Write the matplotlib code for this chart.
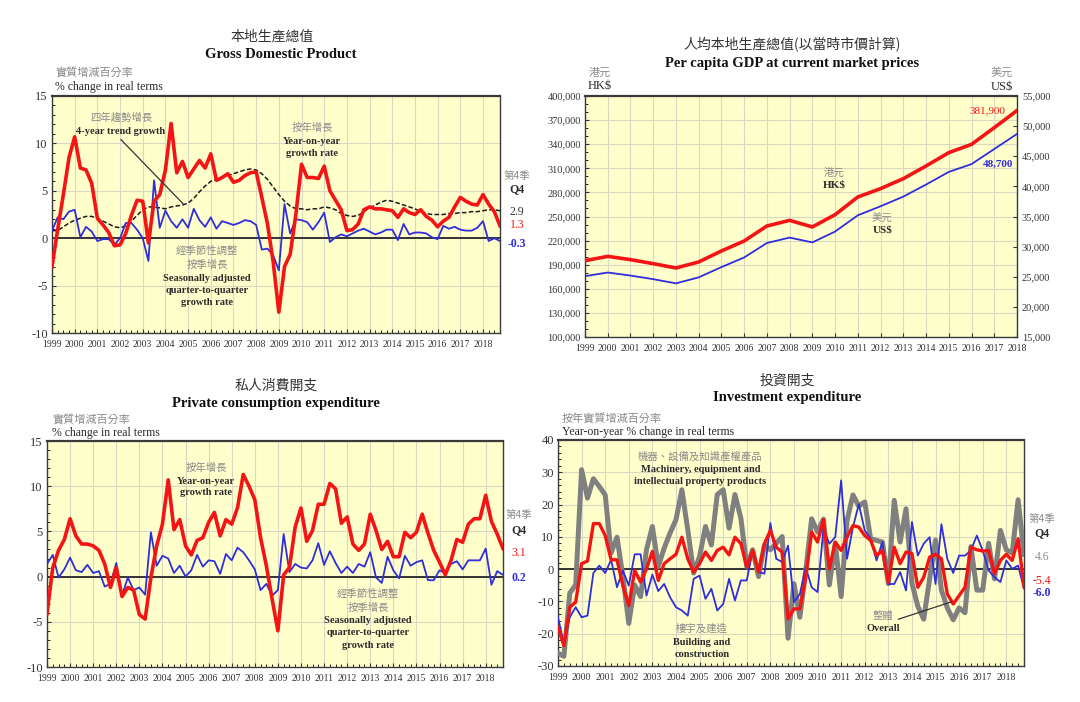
import matplotlib
matplotlib.use('Agg')
import matplotlib.pyplot as plt
from matplotlib.ticker import MultipleLocator, FixedLocator, FuncFormatter

plt.rcParams['font.family'] = ['Liberation Serif', 'DejaVu Serif']
plt.rcParams['axes.unicode_minus'] = False

# ---- data ----
years = list(range(1999, 2019))
quarters = [y + q / 4 for y in years for q in range(4)]

gdp_yoy = [-3.0, 0.9, 4.6, 8.5, 10.7, 7.4, 7.2, 5.8, 2.1, 1.4, 0.6, -0.8,
           -0.7, 0.5, 2.4, 4.0, 3.9, -0.5, 3.9, 4.6, 7.2, 12.1, 6.9, 8.1,
           6.4, 7.3, 8.2, 7.4, 8.9, 6.1, 6.4, 6.8, 5.9, 6.1, 6.6, 6.9,
           7.0, 4.3, 1.5, -2.5, -7.8, -3.0, -1.7, 2.5, 7.8, 6.4, 6.4, 6.3,
           7.6, 5.0, 4.0, 3.0, 0.8, 0.9, 1.5, 3.0, 3.3, 3.1, 3.1, 3.0,
           2.9, 2.2, 3.1, 2.7, 2.5, 3.0, 2.3, 1.9, 1.2, 1.8, 2.2, 3.3,
           4.3, 3.9, 3.6, 3.5, 4.6, 3.6, 2.8, 1.3]
gdp_qoq = [0.8, 2.2, 2.0, 2.8, 3.0, 0.1, 1.2, 0.7, -0.3, -0.1, -0.1, -0.7,
           0.0, 1.6, 1.6, 0.9, 0.0, -2.4, 6.1, 1.1, 2.9, 1.8, 1.1, 2.0,
           1.1, 3.1, 1.9, 1.2, 2.2, 1.0, 1.8, 1.6, 1.4, 1.6, 1.9, 1.8,
           1.4, -1.2, -1.1, -1.8, -3.4, 3.6, 0.5, 2.0, 1.9, 1.7, 0.9, 1.7,
           2.7, -0.4, 0.1, 0.4, 0.2, 0.5, 0.8, 1.0, 0.7, 0.4, 0.6, 0.9,
           0.9, -0.2, 1.5, 0.4, 0.6, 0.6, 0.5, 0.1, -0.1, 1.3, 1.0, 1.2,
           0.9, 0.8, 0.8, 1.1, 1.8, -0.3, 0.0, -0.3]
gdp_trend = [0.8, 0.8, 1.2, 1.6, 1.9, 2.1, 2.3, 2.3, 2.1, 1.8, 1.5, 1.2,
             1.1, 1.3, 1.8, 2.4, 3.0, 3.3, 3.3, 3.2, 3.1, 3.3, 3.4, 3.5,
             3.7, 4.2, 4.9, 5.5, 6.0, 6.2, 6.4, 6.6, 6.8, 7.0, 7.2, 7.3,
             7.2, 6.8, 6.2, 5.4, 4.6, 3.9, 3.4, 3.1, 3.1, 3.0, 3.1, 3.1,
             3.3, 3.2, 3.0, 2.6, 2.4, 2.3, 2.4, 2.8, 3.2, 3.5, 3.8, 4.0,
             3.9, 3.7, 3.5, 3.3, 3.1, 2.8, 2.6, 2.5, 2.5, 2.5, 2.6, 2.6,
             2.7, 2.7, 2.8, 2.8, 2.9, 3.0, 3.0, 2.9]

pc_hkd = [195000, 200400, 196300, 191300, 185900, 193400, 207100, 219500,
          238200, 245200, 237000, 252300, 274300, 284700, 297100, 312900,
          329500, 339800, 360600, 381900]
pc_usd = [25100, 25700, 25200, 24600, 23900, 24900, 26600, 28200, 30600,
          31500, 30700, 32500, 35200, 36700, 38300, 40300, 42400, 43700,
          46200, 48700]
hkd_ticks = [100000, 130000, 160000, 190000, 220000, 250000, 280000,
             310000, 340000, 370000, 400000]
usd_ticks = [15000, 20000, 25000, 30000, 35000, 40000, 45000, 50000, 55000]

pce_yoy = [-4.1, 1.0, 2.9, 4.1, 6.4, 4.5, 3.6, 3.6, 3.4, 2.9, 1.4, -1.2,
           1.0, -2.2, -1.2, -1.5, -4.2, -4.7, -0.1, 3.4, 5.8, 10.7, 5.2, 6.3,
           3.4, 2.4, 4.0, 4.3, 6.0, 7.1, 4.5, 6.3, 5.8, 7.6, 11.3, 10.0,
           8.5, 4.3, 1.2, -2.5, -6.0, 0.2, 1.0, 5.5, 7.6, 3.9, 5.1, 8.0,
           8.0, 10.3, 9.7, 5.9, 6.6, 3.6, 2.9, 3.6, 6.9, 5.1, 3.0, 3.9,
           2.2, 2.2, 4.9, 4.3, 4.9, 6.9, 4.8, 2.9, 1.6, 0.2, 1.8, 4.1,
           3.8, 5.8, 6.4, 6.4, 9.0, 6.1, 4.7, 3.1]
pce_qoq = [1.4, 2.4, -0.1, 0.8, 2.1, 0.7, 0.5, 1.3, 0.4, 0.6, -1.1, -0.8,
           1.5, -2.1, -0.1, -1.5, -1.2, -2.0, 4.9, 1.2, 2.3, 2.0, 0.4, 1.2,
           0.0, 0.7, 2.4, 1.1, 1.8, 1.7, 0.3, 2.5, 1.8, 3.2, 2.7, 1.8,
           0.8, -1.5, -0.8, -2.1, -1.5, 4.7, 0.5, 1.4, 1.0, 0.9, 1.8, 3.7,
           1.3, 2.8, 1.5, 0.4, 1.1, 0.4, 1.4, 1.1, 2.7, -0.1, -0.7, 2.2,
           0.7, -0.2, 2.3, 1.2, 1.6, 1.8, -0.4, -0.4, 0.7, 0.4, 1.4, 1.7,
           0.8, 1.8, 1.8, 1.8, 3.1, -0.9, 0.6, 0.2]

inv_overall = [-18.0, -23.7, -11.8, -10.2, 1.7, 2.5, 14.1, 14.1, 10.4, 2.9, 2.9, -5.1,
               -11.3, -0.4, -4.0, 0.1, 5.5, -3.5, 1.7, 3.2, 4.6, 9.9, 3.2, -0.9,
               1.7, 5.3, 2.7, 5.8, 6.8, 4.4, 9.9, 7.9, 0.6, 5.8, -0.9, 7.9,
               12.0, 6.8, 5.3, -15.4, -12.3, -12.3, -2.5, 11.5, 8.4, 15.3, 0.1, 8.4,
               5.8, 9.9, 13.5, 13.0, 10.4, 8.9, 4.2, 5.8, -4.0, 6.8, 1.7, 5.3,
               4.8, -5.6, -2.5, 3.7, 4.6, 3.2, -7.7, -10.8, -8.2, -5.6, 6.8, 6.0,
               5.6, 5.8, -1.4, 2.7, 4.6, 2.7, 9.4, -5.4]
inv_machinery = [-26.0, -27.0, -7.4, -4.9, 30.8, 22.0, 28.0, 25.6, 23.0, 5.0, 9.9, -2.3,
                 -16.8, -4.9, -8.5, 6.0, 13.2, 0.8, 6.5, 11.2, 15.3, 24.6, 12.2, -1.2,
                 3.9, 13.2, 7.5, 23.1, 24.6, 12.7, 23.1, 15.8, 0.8, 6.0, -2.3, 7.5,
                 6.0, 8.0, 10.1, -21.4, -4.5, -14.9, -0.4, 15.6, 11.5, 15.5, -4.9, 8.0,
                 -8.5, 15.0, 23.0, 19.5, 20.8, 9.4, 8.9, 8.4, -4.5, 21.3, 8.4, 18.7,
                 -4.3, -11.5, -15.5, -3.0, 9.0, -6.5, -12.0, -15.7, -12.0, -13.5, 7.0, -6.5,
                 -6.5, 8.0, -3.0, 12.0, 6.0, 5.0, 21.5, 4.6]
inv_building = [-14.9, -23.2, -14.9, -11.8, -14.9, -14.4, -1.2, 1.1, -1.2, 2.9, -5.6, -0.4,
                -5.1, 4.6, 4.6, -8.2, -1.7, -6.8, -4.6, -8.7, -11.8, -12.8, -14.4, -3.0,
                -2.0, -9.2, -6.1, -12.8, -10.8, -3.0, -9.7, -3.5, -3.5, 5.8, -0.9, -1.4,
                14.3, 3.2, 2.2, 7.3, -10.2, -7.7, 0.6, -5.6, -7.1, 12.5, 7.9, 9.9,
                27.5, 3.2, 13.0, 20.1, 12.0, 9.4, 2.7, 8.4, -4.6, -4.6, -0.9, -6.6,
                14.6, 4.2, 7.9, 9.9, -4.6, 13.9, 3.2, -1.2, 4.2, 4.2, 5.8, 10.4,
                5.8, -0.4, -2.5, -4.0, 2.7, 0.1, 1.1, -6.0]

# ---- style ----
BG = '#FFFFCC'
GRID = '#D9D9C3'
RED = '#F41414'
BLUE = '#2E2EDB'
GREY = '#808080'
CN_GREY = '#8A8A8A'
DARK = '#2B2B2B'
CJK = ['Noto Sans CJK TC', 'DejaVu Sans']
SERIF = ['Liberation Serif', 'DejaVu Serif']

W, H = 1080, 702
fig = plt.figure(figsize=(W / 100, H / 100), dpi=100)


def box(l, t, r, b):
    return [l / W, 1 - b / H, (r - l) / W, (b - t) / H]


def ftext(x, y, s, cn=False, **kw):
    kw.setdefault('ha', 'center')
    kw.setdefault('va', 'center')
    if cn:
        kw.setdefault('color', CN_GREY)
        fig.text(x / W, 1 - y / H, s, family=CJK, **kw)
    else:
        kw.setdefault('color', DARK)
        fig.text(x / W, 1 - y / H, s, family=SERIF, **kw)


def base_style(ax):
    ax.set_facecolor(BG)
    for sp in ax.spines.values():
        sp.set_color('#3A3A3A')
        sp.set_linewidth(1.0)
    ax.spines['top'].set_linewidth(1.6)
    ax.tick_params(which='major', direction='in', length=3, width=0.8,
                   labelsize=9, colors='#333333', pad=3)
    ax.tick_params(which='minor', direction='in', length=2, width=0.6)
    ax.grid(True, which='major', color=GRID, lw=0.8)
    ax.set_axisbelow(True)


def quarterly_axes(rect, lo, hi, step, minor):
    ax = fig.add_axes(rect)
    base_style(ax)
    ax.set_xlim(1999, 2018.75)
    ax.set_ylim(lo, hi)
    ax.set_xticks(years)
    ax.set_xticklabels([str(y) for y in years])
    ax.tick_params(axis='x', labelsize=7, pad=5)
    ax.xaxis.set_minor_locator(MultipleLocator(0.25))
    ax.yaxis.set_major_locator(MultipleLocator(step))
    ax.yaxis.set_minor_locator(MultipleLocator(minor))
    ax.axhline(0, color='#333333', lw=1.4, zorder=2)
    return ax


# ---- GDP ----
ax1 = quarterly_axes(box(52, 96, 500, 333), -10, 15, 5, 1)
ax1.plot(quarters, gdp_trend, color='#1A1A1A', lw=1.1, ls=(0, (3, 1.5)), zorder=3)
ax1.plot(quarters, gdp_qoq, color=BLUE, lw=1.3, zorder=4)
ax1.plot(quarters, gdp_yoy, color=RED, lw=2.6, zorder=5)
ax1.text(2002.04, 12.7, '四年趨勢增長', family=CJK, color=CN_GREY, fontsize=7.5, ha='center', va='center')
ax1.text(2002.04, 11.3, '4-year trend growth', family=SERIF, color=DARK, fontsize=7.5, weight='bold', ha='center', va='center')
ax1.plot([2002.04, 2004.77], [10.4, 3.65], color='#333333', lw=0.9, zorder=6)
ax1.text(2010.47, 11.6, '按年增長', family=CJK, color=CN_GREY, fontsize=7.5, ha='center', va='center')
ax1.text(2010.47, 10.2, 'Year-on-year', family=SERIF, color=DARK, fontsize=7.5, weight='bold', ha='center', va='center')
ax1.text(2010.47, 8.9, 'growth rate', family=SERIF, color=DARK, fontsize=7.5, weight='bold', ha='center', va='center')
ax1.text(2005.84, -1.35, '經季節性調整', family=CJK, color=CN_GREY, fontsize=7.5, ha='center', va='center')
ax1.text(2005.84, -2.85, '按季增長', family=CJK, color=CN_GREY, fontsize=7.5, ha='center', va='center')
for i, s in enumerate(['Seasonally adjusted', 'quarter-to-quarter', 'growth rate']):
    ax1.text(2005.84, -4.2 - 1.3 * i, s, family=SERIF, color=DARK, fontsize=7.5, weight='bold', ha='center', va='center')

ftext(272, 37, '本地生產總值', cn=True, fontsize=10, color='#333333')
ftext(281, 54, 'Gross Domestic Product', fontsize=10.5, weight='bold', color='#111111')
ftext(55, 72, '實質增減百分率', cn=True, fontsize=8, ha='left')
ftext(55, 87, '% change in real terms', fontsize=8.5, ha='left')
ftext(517, 176, '第4季', cn=True, fontsize=7.5)
ftext(517, 189, 'Q4', fontsize=8.5, weight='bold')
ftext(517, 212, '2.9', fontsize=8.5, color='#333333')
ftext(517, 225, '1.3', fontsize=8.5, color=RED)
ftext(517, 244, '-0.3', fontsize=8.5, color=BLUE, weight='bold')

# ---- Per capita GDP ----
ax2 = fig.add_axes(box(585, 96, 1017, 337))
base_style(ax2)
ax2.set_xlim(1999, 2018)
ax2.set_ylim(100000, 400000)
ax2.set_xticks(years)
ax2.set_xticklabels([str(y) for y in years])
ax2.tick_params(axis='x', labelsize=7, pad=5)
ax2.tick_params(axis='y', labelsize=7.5)
ax2.yaxis.set_major_locator(FixedLocator(hkd_ticks))
ax2.yaxis.set_minor_locator(MultipleLocator(10000))
ax2.yaxis.set_major_formatter(FuncFormatter(lambda v, p: f'{int(v):,}'))
ax2.plot(years, pc_hkd, color=RED, lw=2.6, zorder=5)
ax2b = ax2.twinx()
ax2b.set_ylim(15000, 55000)
ax2b.yaxis.set_major_locator(FixedLocator(usd_ticks))
ax2b.yaxis.set_major_formatter(FuncFormatter(lambda v, p: f'{int(v):,}'))
ax2b.tick_params(axis='y', direction='in', length=3, labelsize=7.5, colors='#333333')
for sp in ax2b.spines.values():
    sp.set_visible(False)
ax2b.plot(years, pc_usd, color=BLUE, lw=1.3, zorder=4)
ax2.text(2016.7, 382200, '381,900', color=RED, fontsize=8, ha='center', va='center')
ax2.text(2017.15, 315000, '48,700', color=BLUE, fontsize=8, weight='bold', ha='center', va='center')
ax2.text(2009.96, 304600, '港元', family=CJK, color=CN_GREY, fontsize=7.5, ha='center', va='center')
ax2.text(2009.96, 289700, 'HK$', family=SERIF, color=DARK, fontsize=8, weight='bold', ha='center', va='center')
ax2.text(2012.07, 247400, '美元', family=CJK, color=CN_GREY, fontsize=7.5, ha='center', va='center')
ax2.text(2012.07, 232800, 'US$', family=SERIF, color=DARK, fontsize=8, weight='bold', ha='center', va='center')

ftext(792, 45, '人均本地生產總值(以當時市價計算)', cn=True, fontsize=10, color='#333333')
ftext(792, 63, 'Per capita GDP at current market prices', fontsize=10.5, weight='bold', color='#111111')
ftext(600, 73, '港元', cn=True, fontsize=8)
ftext(600, 86, 'HK$', fontsize=9)
ftext(1002, 73, '美元', cn=True, fontsize=8)
ftext(1002, 87, 'US$', fontsize=9)

# ---- Private consumption ----
ax3 = quarterly_axes(box(47, 441, 503, 667), -10, 15, 5, 1)
ax3.plot(quarters, pce_qoq, color=BLUE, lw=1.3, zorder=4)
ax3.plot(quarters, pce_yoy, color=RED, lw=2.6, zorder=5)
ax3.text(2005.9, 12.05, '按年增長', family=CJK, color=CN_GREY, fontsize=7.5, ha='center', va='center')
ax3.text(2005.9, 10.55, 'Year-on-year', family=SERIF, color=DARK, fontsize=7.5, weight='bold', ha='center', va='center')
ax3.text(2005.9, 9.25, 'growth rate', family=SERIF, color=DARK, fontsize=7.5, weight='bold', ha='center', va='center')
ax3.text(2012.9, -1.95, '經季節性調整', family=CJK, color=CN_GREY, fontsize=7.5, ha='center', va='center')
ax3.text(2012.9, -3.45, '按季增長', family=CJK, color=CN_GREY, fontsize=7.5, ha='center', va='center')
for i, s in enumerate(['Seasonally adjusted', 'quarter-to-quarter', 'growth rate']):
    ax3.text(2012.9, -4.85 - 1.37 * i, s, family=SERIF, color=DARK, fontsize=7.5, weight='bold', ha='center', va='center')

ftext(276, 386, '私人消費開支', cn=True, fontsize=10, color='#333333')
ftext(276, 404, 'Private consumption expenditure', fontsize=10.5, weight='bold', color='#111111')
ftext(52, 419, '實質增減百分率', cn=True, fontsize=8, ha='left')
ftext(52, 433, '% change in real terms', fontsize=8.5, ha='left')
ftext(519, 515, '第4季', cn=True, fontsize=7.5)
ftext(519, 530, 'Q4', fontsize=8.5, weight='bold')
ftext(519, 553, '3.1', fontsize=8.5, color=RED)
ftext(519, 578, '0.2', fontsize=8.5, color=BLUE, weight='bold')

# ---- Investment ----
ax4 = quarterly_axes(box(558, 440, 1024, 666), -30, 40, 10, 2)
ax4.plot(quarters, inv_machinery, color=GREY, lw=3.6, zorder=3)
ax4.plot(quarters, inv_building, color=BLUE, lw=1.3, zorder=4)
ax4.plot(quarters, inv_overall, color=RED, lw=2.4, zorder=5)
ax4.text(2005.03, 34.8, '機器、設備及知識產權產品', family=CJK, color=CN_GREY, fontsize=7.5, ha='center', va='center')
ax4.text(2005.03, 31.0, 'Machinery, equipment and', family=SERIF, color=DARK, fontsize=7.5, weight='bold', ha='center', va='center')
ax4.text(2005.03, 27.2, 'intellectual property products', family=SERIF, color=DARK, fontsize=7.5, weight='bold', ha='center', va='center')
ax4.text(2005.1, -18.4, '樓宇及建造', family=CJK, color=CN_GREY, fontsize=7.5, ha='center', va='center')
ax4.text(2005.1, -22.6, 'Building and', family=SERIF, color=DARK, fontsize=7.5, weight='bold', ha='center', va='center')
ax4.text(2005.1, -26.4, 'construction', family=SERIF, color=DARK, fontsize=7.5, weight='bold', ha='center', va='center')
ax4.text(2012.77, -14.5, '整體', family=CJK, color=CN_GREY, fontsize=7.5, ha='center', va='center')
ax4.text(2012.77, -18.3, 'Overall', family=SERIF, color=DARK, fontsize=7.5, weight='bold', ha='center', va='center')
ax4.plot([2013.43, 2015.69], [-15.5, -10.1], color='#333333', lw=0.9, zorder=6)

ftext(787, 381, '投資開支', cn=True, fontsize=10, color='#333333')
ftext(787, 398, 'Investment expenditure', fontsize=10.5, weight='bold', color='#111111')
ftext(562, 418, '按年實質增減百分率', cn=True, fontsize=8, ha='left')
ftext(562, 432, 'Year-on-year % change in real terms', fontsize=8.5, ha='left')
ftext(1042, 519, '第4季', cn=True, fontsize=7.5)
ftext(1042, 533, 'Q4', fontsize=8.5, weight='bold')
ftext(1042, 557, '4.6', fontsize=8.5, color='#8C8C8C')
ftext(1042, 581, '-5.4', fontsize=8.5, color=RED)
ftext(1042, 593, '-6.0', fontsize=8.5, color=BLUE, weight='bold')

fig.savefig('out.png', dpi=100, facecolor='white')
